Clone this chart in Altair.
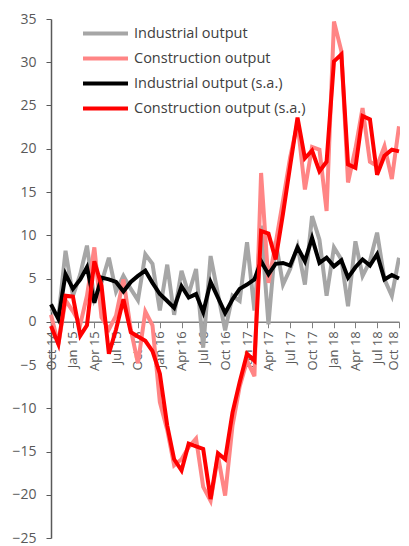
import altair as alt
import pandas as pd

months = pd.date_range("2014-10-01", "2018-10-01", freq="MS").strftime("%Y-%m-%d").tolist()

industrial = [1.5, 0.5, 8.2, 3.0, 5.5, 8.8, 2.6, 4.5, 7.4, 3.5, 5.3, 3.8, 2.5, 7.8, 6.7,
              1.3, 6.6, 0.8, 5.9, 3.2, 6.1, -3.0, 7.6, 3.2, -1.0, 3.0, 2.4, 9.2, 1.3,
              11.1, -0.3, 9.3, 4.3, 6.1, 8.7, 4.3, 12.2, 9.5, 3.0, 8.6, 7.2, 1.8, 9.3,
              5.3, 7.0, 10.3, 4.9, 3.0, 7.4]
construction = [0.8, -2.6, 2.5, 1.2, -0.3, 3.0, 8.6, 0.5, -0.9, 0.7, 4.9, -0.9, -4.8, 1.2, -0.4,
                -9.3, -12.5, -16.6, -15.9, -14.5, -13.5, -19.1, -20.7, -15.5, -20.1, -12.0,
                -7.5, -4.5, -6.3, 17.2, 4.5, 9.0, 14.0, 19.0, 23.0, 15.3, 20.2, 19.9, 12.8,
                34.7, 31.3, 16.1, 20.0, 24.7, 18.5, 18.0, 20.3, 16.5, 22.6]
industrial_sa = [2.0, 0.3, 5.5, 3.8, 4.9, 6.3, 2.2, 5.1, 4.9, 4.6, 3.5, 4.6, 5.3, 5.9, 4.5,
                 3.2, 2.4, 1.6, 4.1, 2.8, 3.2, 1.1, 4.6, 2.8, 1.0, 2.6, 3.8, 4.3, 4.9,
                 7.0, 5.5, 6.7, 6.8, 6.5, 8.6, 7.0, 9.7, 6.8, 7.4, 6.4, 7.1, 5.1, 6.3,
                 7.2, 6.5, 7.8, 4.9, 5.4, 5.0]
construction_sa = [-0.5, -2.6, 3.0, 2.9, -1.6, -0.4, 7.0, 4.2, -3.7, -0.9, 2.6, -1.2, -1.7, -2.2, -3.4,
                   -6.0, -12.0, -15.9, -17.2, -14.1, -14.4, -14.7, -20.5, -15.2, -15.9, -10.5,
                   -7.0, -3.7, -4.5, 10.5, 10.2, 7.2, 12.5, 18.0, 23.6, 18.9, 19.8, 17.4, 18.5,
                   30.1, 30.9, 18.2, 17.8, 23.8, 23.4, 17.0, 19.2, 19.9, 19.7]

series_names = ["Industrial output", "Construction output",
                "Industrial output (s.a.)", "Construction output (s.a.)"]
series_colors = ["#a6a6a6", "#ff8585", "#000000", "#ff0000"]
y_ticks = [-25, -20, -15, -10, -5, 0, 5, 10, 15, 20, 25, 30, 35]

rows = []
for name, vals in zip(series_names, [industrial, construction, industrial_sa, construction_sa]):
    for m, v in zip(months, vals):
        rows.append({"month": m, "series": name, "value": v})
df = pd.DataFrame(rows)

W, H = 348, 519
zero_offset = -(H * 25 / 60)

chart = alt.Chart(df).mark_line(strokeWidth=4).encode(
    x=alt.X("month:T",
            scale=alt.Scale(type="utc", nice=False,
                            domain=[alt.DateTime(year=2014, month=10, date=1, utc=True),
                                    alt.DateTime(year=2018, month=10, date=1, utc=True)]),
            axis=alt.Axis(title=None, orient="bottom", offset=zero_offset,
                          tickCount={"interval": "month", "step": 3},
                          format="%b %y", labelAngle=270, labelFontSize=13,
                          labelFont="Open Sans", labelColor="#595959",
                          labelOffset={"condition": {"test": "datum.value > utc(2018, 8, 1)",
                                                     "value": -6}, "value": 0},
                          tickSize=6, labelPadding=3, tickColor="#808080",
                          domainColor="#808080", domainWidth=1.5, labelOverlap=False,
                          grid=False)),
    y=alt.Y("value:Q",
            scale=alt.Scale(domain=[-25, 35], nice=False, zero=False),
            axis=alt.Axis(title=None, values=y_ticks, labelFontSize=14,
                          labelFont="Open Sans", labelColor="#595959",
                          tickSize=5, labelPadding=10, tickColor="#595959",
                          domainColor="#595959", domainWidth=1.5, grid=False)),
    color=alt.Color("series:N",
                    scale=alt.Scale(domain=series_names, range=series_colors),
                    legend=alt.Legend(title=None, orient="none", legendX=30, legendY=4.5,
                                      direction="vertical", columns=1,
                                      symbolType="stroke", symbolSize=2025,
                                      symbolStrokeWidth=4, clipHeight=20, rowPadding=5,
                                      labelOffset=4, labelFontSize=14.5, labelFont="Open Sans",
                                      labelColor="#404040", labelLimit=400, padding=0)),
).properties(
    width=W, height=H,
    autosize=alt.AutoSizeParams(type="none"),
    padding={"left": 43, "top": 11, "right": 1, "bottom": 9},
).configure_view(stroke=None)

chart.save("out.html", embed_options={"renderer": "svg", "actions": False})
